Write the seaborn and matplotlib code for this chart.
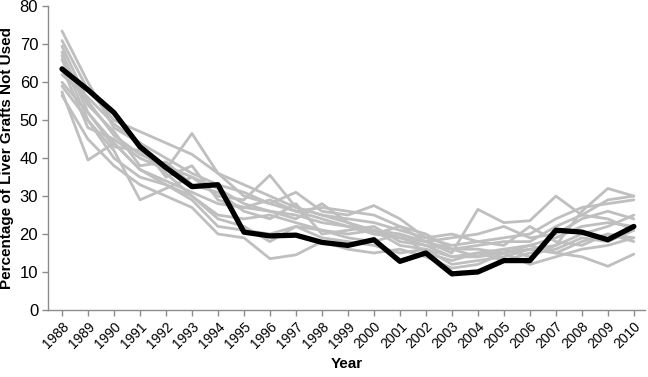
import seaborn as sns
import matplotlib.pyplot as plt
import numpy as np
import pandas as pd

# ======================
# data
# ======================
years = list(range(1988, 2011))

# highlighted series (black)
main_pct = [63.5, 58, 52, 43, 37.5, 32.5, 33, 20.5, 19.5, 19.7, 17.8, 17, 18.5,
            12.8, 15, 9.5, 10, 13, 13, 21, 20.5, 18.5, 22]

# background series (grey)
grey_1 = [73.5, 60, 48, 44, 40, 36, 33, 31, 28, 26, 24, 22, 21, 20, 18, 16, 16, 15, 16, 17, 20, 22, 25]
grey_2 = [71, 58, 50, 47, 44, 41, 36, 33, 30, 27, 25, 24, 23, 21, 19, 17, 18, 19, 20, 24, 27, 28, 29]
grey_3 = [69.5, 55, 46, 41, 38, 35, 32, 28, 26, 25, 23, 22, 20, 19, 17, 14, 15, 16, 17, 19, 22, 23, 22]
grey_4 = [68, 52, 44, 37, 34, 31, 28, 27, 29, 26, 27, 26, 25, 22, 20, 16, 17, 18, 18, 22, 25, 29, 30]
grey_5 = [66, 50, 42, 29, 32, 35, 30, 29, 35.5, 27, 25, 23, 21, 19, 18, 15, 26.5, 23, 23.5, 30, 25, 24, 21]
grey_6 = [64, 48, 45, 40, 37, 46.5, 36, 30, 28, 31, 26, 25, 27.5, 24, 19, 20, 18, 17, 22, 18, 17, 20, 19]
grey_7 = [59, 50, 40, 35, 33, 30, 25, 24, 25, 23, 21, 20, 21, 17, 16, 14, 14, 16, 14, 17, 26, 32, 30]
grey_8 = [57.5, 39.5, 44, 37, 33, 29, 22, 21, 20, 22, 19, 18, 17, 15, 16, 12, 13, 14, 16, 15, 14, 11.5, 14.7]
grey_9 = [56.5, 45, 38, 33, 30, 27, 20, 19, 13.5, 14.5, 18, 16, 15, 16, 14, 11, 12, 15, 12, 14, 16, 17, 19]
grey_10 = [60, 52, 43, 42, 36, 30, 24, 22, 18, 22, 21, 19, 18, 20, 15, 13, 15, 13, 15, 16, 19, 18, 21]
grey_11 = [62, 56, 49, 44, 35, 38, 29, 27, 26, 24, 28, 23, 20, 22, 18, 19, 20, 22, 19, 20, 24, 26, 24]
grey_12 = [67, 54, 47, 38, 39, 33, 31, 26, 24, 28, 20, 21, 22, 18, 17, 16, 14, 15, 17, 15, 18, 20, 18]

grey_series = [grey_1, grey_2, grey_3, grey_4, grey_5, grey_6,
               grey_7, grey_8, grey_9, grey_10, grey_11, grey_12]

grey_df = pd.concat(
    [pd.DataFrame({"year": years, "pct": s, "series": i}) for i, s in enumerate(grey_series)],
    ignore_index=True,
)
main_df = pd.DataFrame({"year": years, "pct": main_pct})

# ======================
# style
# ======================
sns.set_theme(style="white")
plt.rcParams["font.family"] = ["Liberation Sans", "DejaVu Sans"]

axis_grey = "#8c8c8c"

fig = plt.figure(figsize=(6.48, 3.77), dpi=100)
ax = fig.add_axes([0.074, 0.178, 0.921, 0.805])

sns.lineplot(data=grey_df, x="year", y="pct", units="series", estimator=None,
             color="#bfbfbf", linewidth=2.0, ax=ax)
sns.lineplot(data=main_df, x="year", y="pct", color="black", linewidth=3.8, ax=ax)

ax.set_xlim(1987.46, 2010.42)
ax.set_ylim(0, 80)
ax.set_yticks(range(0, 81, 10))
ax.set_xticks(years)
ax.set_xticklabels([str(y) for y in years], rotation=45, fontsize=10,
                   ha="right", rotation_mode="anchor")
ax.tick_params(axis="y", labelsize=12, length=4, width=1, color=axis_grey,
               labelcolor="black", direction="out", left=True, pad=3)
ax.tick_params(axis="x", length=4, width=1, color=axis_grey,
               labelcolor="black", direction="out", bottom=True, pad=3)

for side in ["top", "right"]:
    ax.spines[side].set_visible(False)
for side in ["left", "bottom"]:
    ax.spines[side].set_color(axis_grey)
    ax.spines[side].set_linewidth(1)

ax.set_xlabel("Year", fontsize=11, fontweight="bold", color="black", labelpad=4)
ax.set_ylabel("Percentage of Liver Grafts Not Used", fontsize=11,
              fontweight="bold", color="black", labelpad=4)

fig.savefig("out.png", dpi=100)
